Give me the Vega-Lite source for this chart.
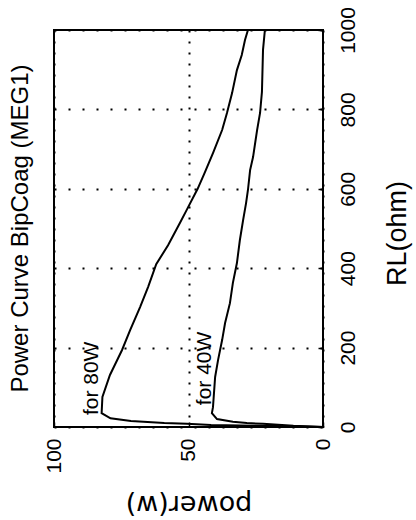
{
  "$schema": "https://vega.github.io/schema/vega-lite/v6.json",
  "width": 269,
  "height": 397,
  "autosize": "none",
  "padding": {"left": 54, "top": 30, "right": 93, "bottom": 93},
  "background": "white",
  "title": {
    "text": "Power Curve BipCoag (MEG1)",
    "orient": "left",
    "anchor": "middle",
    "font": "Liberation Sans",
    "fontSize": 24,
    "fontWeight": "normal",
    "color": "black",
    "offset": 10
  },
  "config": {
    "view": {"stroke": "black", "strokeWidth": 2},
    "axis": {
      "labelColor": "black",
      "titleColor": "black",
      "tickColor": "black",
      "gridColor": "black",
      "domain": false,
      "titleFontWeight": "normal"
    }
  },
  "layer": [
    {
      "data": {
        "values": [
          {"series": "80W", "RL": 0, "power": 0},
          {"series": "80W", "RL": 2, "power": 10.8},
          {"series": "80W", "RL": 5, "power": 41.6},
          {"series": "80W", "RL": 8, "power": 50.6},
          {"series": "80W", "RL": 10, "power": 59},
          {"series": "80W", "RL": 15, "power": 71.4},
          {"series": "80W", "RL": 22, "power": 79},
          {"series": "80W", "RL": 35, "power": 82.3},
          {"series": "80W", "RL": 76, "power": 82},
          {"series": "80W", "RL": 131, "power": 79.2},
          {"series": "80W", "RL": 194, "power": 74.7},
          {"series": "80W", "RL": 244, "power": 71.7},
          {"series": "80W", "RL": 302, "power": 68},
          {"series": "80W", "RL": 353, "power": 65},
          {"series": "80W", "RL": 410, "power": 62},
          {"series": "80W", "RL": 458, "power": 57.6},
          {"series": "80W", "RL": 514, "power": 53.2},
          {"series": "80W", "RL": 545, "power": 50.8},
          {"series": "80W", "RL": 600, "power": 46.6},
          {"series": "80W", "RL": 640, "power": 44},
          {"series": "80W", "RL": 690, "power": 40.9},
          {"series": "80W", "RL": 748, "power": 37.5},
          {"series": "80W", "RL": 791, "power": 35.7},
          {"series": "80W", "RL": 841, "power": 33.8},
          {"series": "80W", "RL": 899, "power": 32},
          {"series": "80W", "RL": 937, "power": 30.2},
          {"series": "80W", "RL": 975, "power": 29},
          {"series": "80W", "RL": 1000, "power": 27.9},
          {"series": "40W", "RL": 0, "power": 0},
          {"series": "40W", "RL": 3, "power": 11},
          {"series": "40W", "RL": 8, "power": 22.3},
          {"series": "40W", "RL": 10, "power": 28.3},
          {"series": "40W", "RL": 13, "power": 33.5},
          {"series": "40W", "RL": 20, "power": 39.4},
          {"series": "40W", "RL": 35, "power": 41.3},
          {"series": "40W", "RL": 50, "power": 40.9},
          {"series": "40W", "RL": 126, "power": 40.1},
          {"series": "40W", "RL": 169, "power": 39},
          {"series": "40W", "RL": 219, "power": 37.5},
          {"series": "40W", "RL": 262, "power": 36.4},
          {"series": "40W", "RL": 312, "power": 34.6},
          {"series": "40W", "RL": 363, "power": 33.5},
          {"series": "40W", "RL": 413, "power": 32},
          {"series": "40W", "RL": 471, "power": 30.9},
          {"series": "40W", "RL": 521, "power": 29.7},
          {"series": "40W", "RL": 564, "power": 28.6},
          {"series": "40W", "RL": 597, "power": 27.9},
          {"series": "40W", "RL": 647, "power": 27.1},
          {"series": "40W", "RL": 680, "power": 26},
          {"series": "40W", "RL": 748, "power": 24.5},
          {"series": "40W", "RL": 791, "power": 23.4},
          {"series": "40W", "RL": 844, "power": 22.7},
          {"series": "40W", "RL": 950, "power": 22.3},
          {"series": "40W", "RL": 1000, "power": 21.6}
        ]
      },
      "mark": {"type": "line", "color": "black", "strokeWidth": 2, "clip": true},
      "encoding": {
        "x": {
          "field": "power",
          "type": "quantitative",
          "scale": {"domain": [0, 100], "reverse": true, "nice": false, "zero": false},
          "axis": {
            "orient": "bottom",
            "values": [0, 50, 100],
            "format": "d",
            "labelAngle": 270,
            "labelAlign": "right",
            "labelBaseline": "middle",
            "labelFont": "Liberation Sans",
            "labelFontSize": 21,
            "labelPadding": 16,
            "labelFlush": false,
            "labelOverlap": false,
            "ticks": true,
            "tickSize": -5,
            "tickWidth": 1.5,
            "grid": true,
            "gridDash": [2, 9],
            "gridWidth": 2,
            "title": "power(w)",
            "titleAngle": 180,
            "titleFont": "DejaVu Sans",
            "titleFontSize": 27,
            "titleAlign": "center",
            "titleBaseline": "alphabetic",
            "titleX": 134.5,
            "titleY": 68
          }
        },
        "y": {
          "field": "RL",
          "type": "quantitative",
          "scale": {"domain": [0, 1000], "nice": false},
          "axis": {
            "orient": "right",
            "values": [0, 200, 400, 600, 800, 1000],
            "format": "d",
            "labelAngle": 270,
            "labelAlign": "center",
            "labelBaseline": "top",
            "labelFont": "Liberation Sans",
            "labelFontSize": 21,
            "labelPadding": 19,
            "labelFlush": false,
            "labelOverlap": false,
            "ticks": true,
            "tickSize": -5,
            "tickWidth": 1.5,
            "grid": true,
            "gridDash": [2, 12],
            "gridWidth": 2,
            "title": "RL(ohm)",
            "titleAngle": 270,
            "titleFont": "Liberation Sans",
            "titleFontSize": 27,
            "titleAlign": "center",
            "titleBaseline": "alphabetic",
            "titleX": 82,
            "titleY": 203
          }
        },
        "detail": {"field": "series", "type": "nominal"},
        "order": {"field": "RL", "type": "quantitative"}
      }
    },
    {
      "data": {
        "values": [
          {"label": "for 80W", "RL": 30, "power": 86},
          {"label": "for 40W", "RL": 55, "power": 44}
        ]
      },
      "mark": {
        "type": "text",
        "angle": 270,
        "align": "left",
        "baseline": "middle",
        "color": "black",
        "font": "Liberation Sans",
        "fontSize": 21
      },
      "encoding": {
        "x": {"field": "power", "type": "quantitative"},
        "y": {"field": "RL", "type": "quantitative"},
        "text": {"field": "label", "type": "nominal"}
      }
    }
  ]
}
